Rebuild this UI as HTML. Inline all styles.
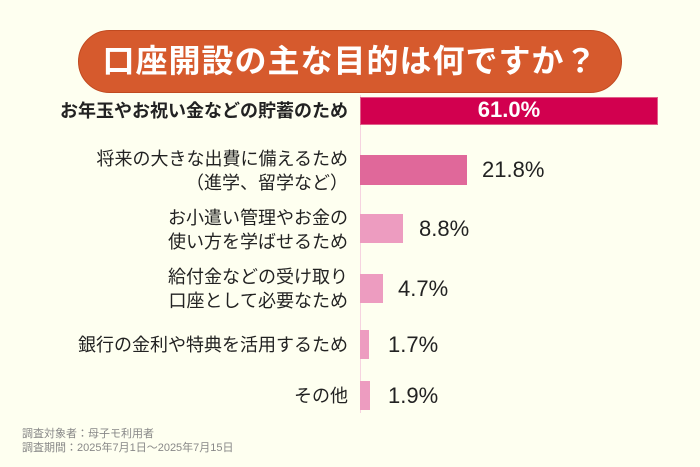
<!DOCTYPE html>
<html><head><meta charset="utf-8"><style>
body{margin:0;width:700px;height:467px;background:#fefff0;position:relative;overflow:hidden;font-family:"Liberation Sans","Noto Sans CJK JP",sans-serif;color:#222}
.t{position:absolute;left:78px;top:30px;width:544px;height:63px;background:#d65a2d;border:1px solid #c04a20;border-radius:32px;box-sizing:border-box;color:#fff;font-size:32px;font-weight:bold;text-align:center;line-height:60px;letter-spacing:1px}
.ax{position:absolute;left:360px;top:95px;width:1px;height:318px;background:#f6d3e0}
.bar{position:absolute;left:360px}
.lab{position:absolute;right:352px;text-align:right;font-size:18px;line-height:24px;white-space:nowrap}
.v{position:absolute;font-size:22px}
.f{position:absolute;left:22px;font-size:11px;color:#888}
</style></head><body>
<div class="t">口座開設の主な目的は何ですか？</div>
<div class="ax"></div>
<div class="bar" style="top:97px;width:298px;height:28px;background:#d2004f;border:1px solid #e0608a;box-sizing:border-box"></div>
<div class="v" style="left:360px;width:298px;text-align:center;top:97px;color:#fff;font-weight:bold;font-size:22px">61.0%</div>
<div class="lab" style="top:99px;font-weight:bold">お年玉やお祝い金などの貯蓄のため</div>
<div class="bar" style="top:155px;width:107px;height:30px;background:#e0689a"></div>
<div class="v" style="left:482px;top:157px">21.8%</div>
<div class="lab" style="top:147px">将来の大きな出費に備えるため<br>（進学、留学など）</div>
<div class="bar" style="top:214px;width:43px;height:29px;background:#ed9cc0"></div>
<div class="v" style="left:419px;top:216px">8.8%</div>
<div class="lab" style="top:206px">お小遣い管理やお金の<br>使い方を学ばせるため</div>
<div class="bar" style="top:274px;width:23px;height:29px;background:#ed9cc0"></div>
<div class="v" style="left:398px;top:276px">4.7%</div>
<div class="lab" style="top:265px">給付金などの受け取り<br>口座として必要なため</div>
<div class="bar" style="top:330px;width:9px;height:29px;background:#ed9cc0"></div>
<div class="v" style="left:388px;top:332px">1.7%</div>
<div class="lab" style="top:333px">銀行の金利や特典を活用するため</div>
<div class="bar" style="top:381px;width:10px;height:29px;background:#ed9cc0"></div>
<div class="v" style="left:388px;top:383px">1.9%</div>
<div class="lab" style="top:384px">その他</div>
<div class="f" style="top:425px">調査対象者：母子モ利用者</div>
<div class="f" style="top:439px">調査期間：2025年7月1日～2025年7月15日</div>
</body></html>
